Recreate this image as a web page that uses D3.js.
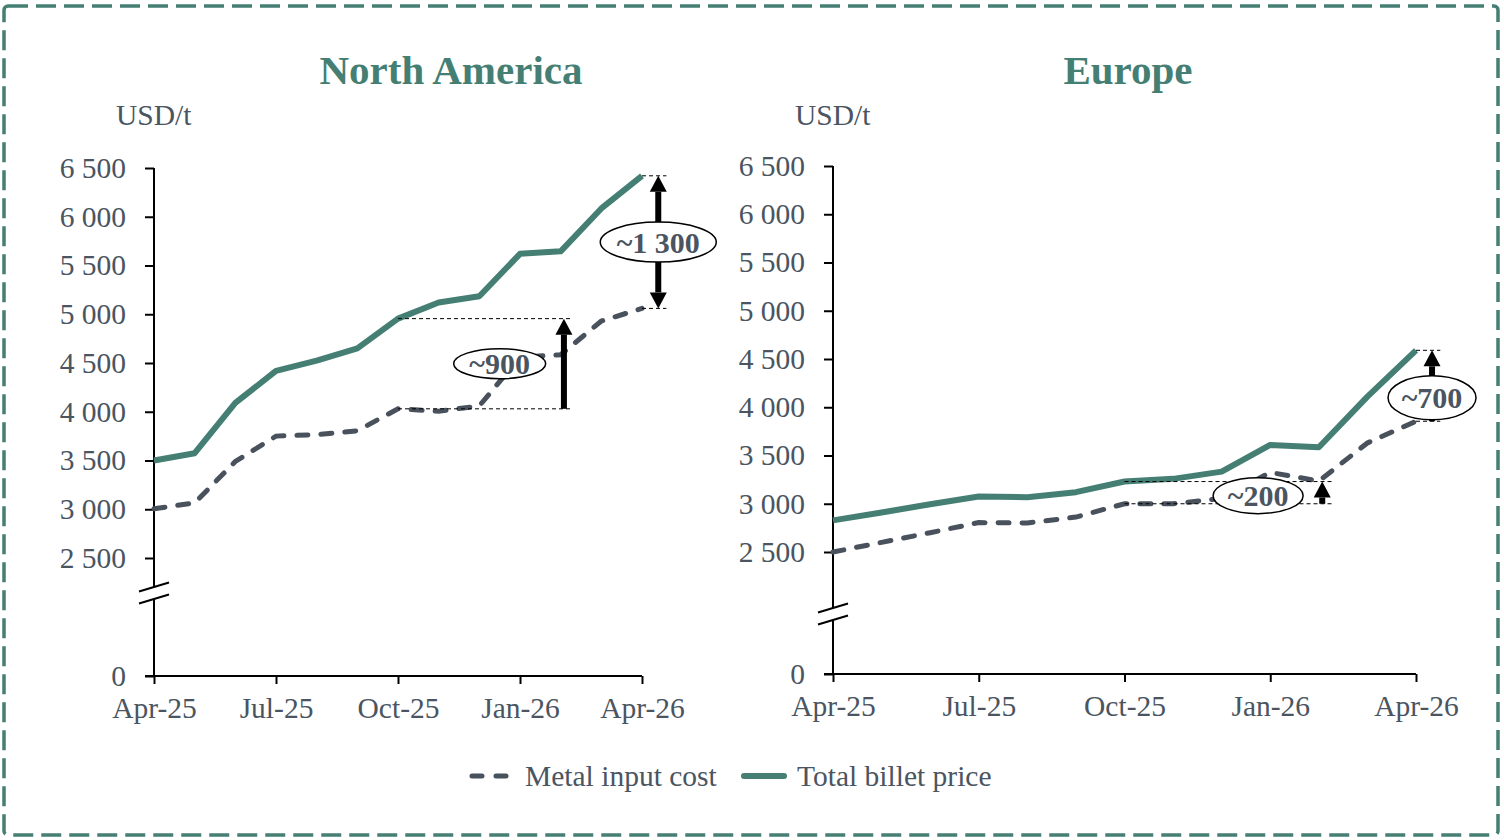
<!DOCTYPE html>
<html>
<head>
<meta charset="utf-8">
<script src="https://cdn.jsdelivr.net/npm/d3@7"></script>
<style>
    body { margin: 0; background: #fff; }
    text { font-family: "Liberation Serif", "Times New Roman", serif; }
</style>
</head>
<body>
<svg id="chart" width="1504" height="840"></svg>
<script>
// values (USD/t)
var months = ["Apr-25", "May-25", "Jun-25", "Jul-25", "Aug-25", "Sep-25", "Oct-25",
    "Nov-25", "Dec-25", "Jan-26", "Feb-26", "Mar-26", "Apr-26"];
var tickMonths = ["Apr-25", "Jul-25", "Oct-25", "Jan-26", "Apr-26"];
var yTicks = [0, 2500, 3000, 3500, 4000, 4500, 5000, 5500, 6000, 6500];

var naMetal = [3005, 3065, 3490, 3750, 3765, 3805, 4030, 4005, 4060, 4560, 4585, 4930, 5060];
var naBillet = [3500, 3575, 4090, 4420, 4525, 4650, 4955, 5120, 5185, 5620, 5645, 6085, 6420];
var euMetal = [2500, 2600, 2700, 2805, 2800, 2862, 3000, 3000, 3055, 3325, 3235, 3630, 3855];
var euBillet = [2828, 2910, 2995, 3075, 3068, 3120, 3230, 3258, 3333, 3610, 3585, 4110, 4590];

var naGapMonths = ["Oct-25", "Apr-26"];
var naGapLabels = ["~900", "~1 300"];
var euGapMonths = ["Oct-25", "Apr-26"];
var euGapLabels = ["~200", "~700"];

var seriesNames = ["Metal input cost", "Total billet price"];

var teal = "#457f74", slate = "#49525c", textCol = "#4a5561";
var labelSize = 29.5;

var svg = d3.select("#chart");

// dashed frame round everything
svg.append("rect")
    .attr("x", 4).attr("y", 6).attr("width", 1494).attr("height", 829)
    .attr("rx", 4)
    .attr("fill", "none").attr("stroke", teal)
    .attr("stroke-width", 3.5).attr("stroke-dasharray", "20 8");

var panels = [
    {
        title: "North America", titleX: 451, unitX: 116,
        left: 154, right: 642, top: 168, y2500: 558, bottom: 676, breakY: 593,
        metal: naMetal, billet: naBillet,
        notes: [
            {month: naGapMonths[0], text: naGapLabels[0], lineEnd: 10.28, arrowAt: 10.08, labelAt: 8.5, dy: 0, rx: 46, ry: 15, both: false},
            {month: naGapMonths[1], text: naGapLabels[1], lineEnd: 12.6, arrowAt: 12.4, labelAt: 12.4, dy: 0, rx: 58, ry: 20, both: true}
        ]
    },
    {
        title: "Europe", titleX: 1128, unitX: 795,
        left: 833, right: 1416, top: 166, y2500: 552, bottom: 674, breakY: 614,
        metal: euMetal, billet: euBillet,
        notes: [
            {month: euGapMonths[0], text: euGapLabels[0], lineEnd: 10.27, arrowAt: 10.07, labelAt: 8.75, dy: 3, rx: 45, ry: 18, both: false},
            {month: euGapMonths[1], text: euGapLabels[1], lineEnd: 12.5, arrowAt: 12.33, labelAt: 12.33, dy: 12, rx: 44, ry: 22, both: false}
        ]
    }
];

var fmt = function (d) {
    return d3.format(",")(d).replace(",", " ");
};

panels.forEach(drawPanel);

function drawPanel(p) {
    var g = svg.append("g");
    var x = d3.scaleLinear().domain([0, months.length - 1]).range([p.left, p.right]);
    var y2000 = p.y2500 + (p.y2500 - p.top) / 8;
    var y = d3.scaleLinear().domain([0, 2000, 2500, 6500]).range([p.bottom, y2000, p.y2500, p.top]);

    g.append("text")
        .attr("x", p.titleX).attr("y", 84)
        .attr("text-anchor", "middle")
        .attr("font-size", 41).attr("font-weight", "bold")
        .attr("fill", teal)
        .text(p.title);

    g.append("text")
        .attr("x", p.unitX).attr("y", 125)
        .attr("font-size", labelSize).attr("fill", textCol)
        .text("USD/t");

    // y axis, domain drawn by hand because of the break
    var yAxis = g.append("g")
        .attr("transform", "translate(" + p.left + ",0)")
        .call(d3.axisLeft(y).tickValues(yTicks).tickSize(9).tickPadding(19).tickFormat(fmt));
    yAxis.select(".domain").remove();
    yAxis.selectAll("line").attr("stroke", "#000").attr("stroke-width", 2);
    yAxis.selectAll("text").attr("font-size", labelSize).attr("fill", textCol)
        .attr("font-family", "Liberation Serif, serif");

    g.append("line")
        .attr("x1", p.left).attr("x2", p.left)
        .attr("y1", y(6500)).attr("y2", p.breakY - 6)
        .attr("stroke", "#000").attr("stroke-width", 2);
    g.append("line")
        .attr("x1", p.left).attr("x2", p.left)
        .attr("y1", p.breakY + 6).attr("y2", y(0))
        .attr("stroke", "#000").attr("stroke-width", 2);
    [-6, 6].forEach(function (o) {
        g.append("line")
            .attr("x1", p.left - 15).attr("y1", p.breakY + o + 4.5)
            .attr("x2", p.left + 15).attr("y2", p.breakY + o - 4.5)
            .attr("stroke", "#000").attr("stroke-width", 2);
    });

    var xAxis = g.append("g")
        .attr("transform", "translate(0," + y(0) + ")")
        .call(d3.axisBottom(x)
            .tickValues(tickMonths.map(function (m) { return months.indexOf(m); }))
            .tickSize(8).tickPadding(13)
            .tickFormat(function (i) { return months[i]; }));
    xAxis.select(".domain").remove();
    xAxis.selectAll("line").attr("stroke", "#000").attr("stroke-width", 2);
    xAxis.selectAll("text").attr("font-size", labelSize).attr("fill", textCol)
        .attr("font-family", "Liberation Serif, serif");
    g.append("line")
        .attr("x1", p.left - 9).attr("x2", p.right)
        .attr("y1", y(0)).attr("y2", y(0))
        .attr("stroke", "#000").attr("stroke-width", 2);

    var line = d3.line()
        .x(function (d, i) { return x(i); })
        .y(function (d) { return y(d); });

    g.append("path").datum(p.metal)
        .attr("d", line)
        .attr("fill", "none").attr("stroke", slate)
        .attr("stroke-width", 5).attr("stroke-dasharray", "11 13")
        .attr("stroke-linecap", "round");
    g.append("path").datum(p.billet)
        .attr("d", line)
        .attr("fill", "none").attr("stroke", teal)
        .attr("stroke-width", 6).attr("stroke-linejoin", "round");

    p.notes.forEach(function (n) {
        var i = months.indexOf(n.month);
        var lo = y(p.metal[i]), hi = y(p.billet[i]);
        var ax = x(n.arrowAt);

        [lo, hi].forEach(function (yy) {
            g.append("line")
                .attr("x1", x(i)).attr("x2", x(n.lineEnd))
                .attr("y1", yy).attr("y2", yy)
                .attr("stroke", "#000").attr("stroke-width", 1)
                .attr("stroke-dasharray", "4 3");
        });

        var head = 16, half = 8.5;
        g.append("line")
            .attr("x1", ax).attr("x2", ax)
            .attr("y1", n.both ? lo - head : lo).attr("y2", hi + head)
            .attr("stroke", "#000").attr("stroke-width", 6);
        g.append("path")
            .attr("d", "M" + ax + "," + hi + "L" + (ax - half) + "," + (hi + head) + "L" + (ax + half) + "," + (hi + head) + "Z")
            .attr("fill", "#000");
        if (n.both) {
            g.append("path")
                .attr("d", "M" + ax + "," + lo + "L" + (ax - half) + "," + (lo - head) + "L" + (ax + half) + "," + (lo - head) + "Z")
                .attr("fill", "#000");
        }

        var cx = x(n.labelAt), cy = (lo + hi) / 2 + n.dy;
        g.append("ellipse")
            .attr("cx", cx).attr("cy", cy).attr("rx", n.rx).attr("ry", n.ry)
            .attr("fill", "#fff").attr("stroke", "#000").attr("stroke-width", 1.5);
        g.append("text")
            .attr("x", cx).attr("y", cy).attr("dy", "0.35em")
            .attr("text-anchor", "middle")
            .attr("font-size", 30).attr("font-weight", "bold")
            .attr("fill", textCol)
            .text(n.text);
    });
}

// legend
var legend = svg.append("g").attr("transform", "translate(0,776)");
legend.append("line")
    .attr("x1", 472).attr("x2", 512).attr("y1", 0).attr("y2", 0)
    .attr("stroke", slate).attr("stroke-width", 5)
    .attr("stroke-dasharray", "10 14").attr("stroke-linecap", "round");
legend.append("text")
    .attr("x", 525).attr("y", 0).attr("dy", "0.33em")
    .attr("font-size", labelSize).attr("fill", textCol)
    .text(seriesNames[0]);
legend.append("line")
    .attr("x1", 744).attr("x2", 784).attr("y1", 0).attr("y2", 0)
    .attr("stroke", teal).attr("stroke-width", 6).attr("stroke-linecap", "round");
legend.append("text")
    .attr("x", 797).attr("y", 0).attr("dy", "0.33em")
    .attr("font-size", labelSize).attr("fill", textCol)
    .text(seriesNames[1]);
</script>
</body>
</html>
